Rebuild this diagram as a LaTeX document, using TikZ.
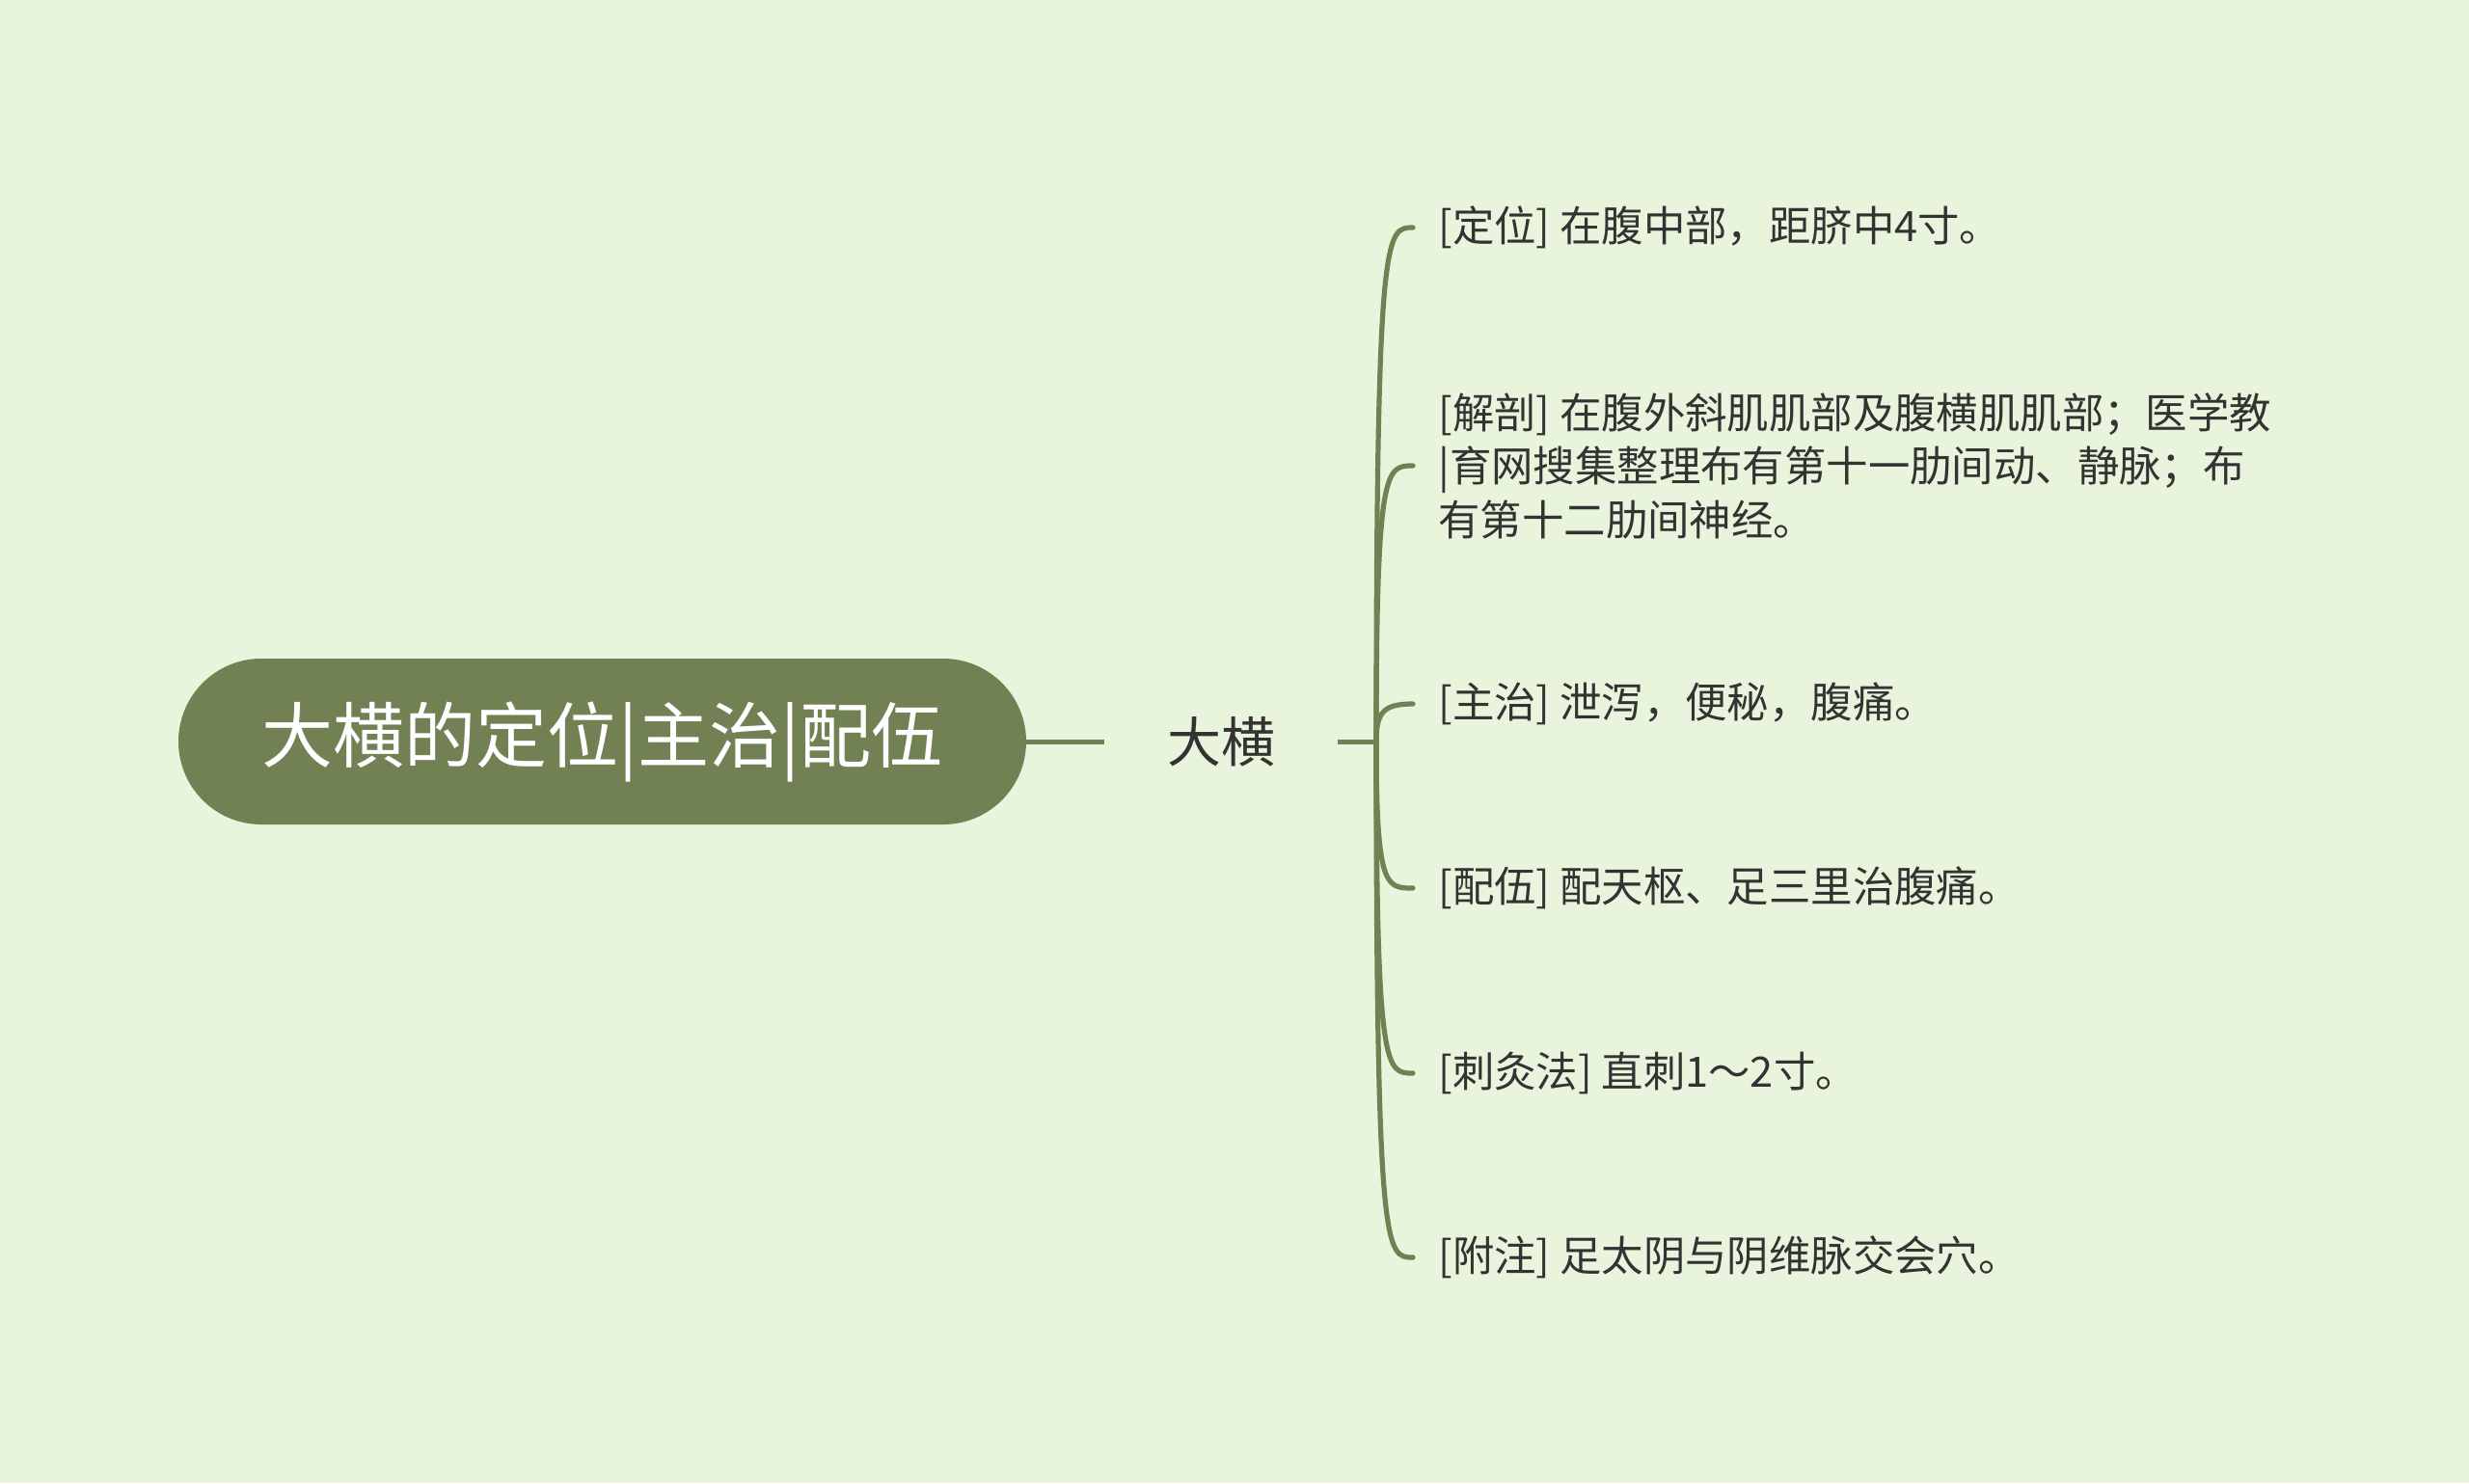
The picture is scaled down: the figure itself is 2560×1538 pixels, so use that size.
\documentclass[tikz,border=0pt]{standalone}
\usepackage{fontspec}
\newfontfamily\cjk{Noto Sans CJK SC}
\definecolor{bg}{RGB}{232,244,219}
\definecolor{olive}{RGB}{114,129,84}
\definecolor{txt}{RGB}{51,51,51}
\begin{document}
\begin{tikzpicture}[x=0.5pt,y=-0.5pt,
  rootbox/.style={fill=olive, rounded corners=43pt, minimum width=439.5pt, minimum height=86pt, inner sep=0pt, text=white, font=\cjk\fontsize{37}{44}\selectfont},
  subbox/.style={minimum width=121pt, inner sep=0pt, text=txt, font=\cjk\fontsize{28}{34}\selectfont},
  leaf/.style={anchor=west, inner xsep=13pt, inner ysep=2pt, align=left, text=txt, font=\cjk\fontsize{21.7}{27.75}\selectfont},
  link/.style={draw=olive, line width=2.5pt},
  branch/.style={draw=olive, line width=2.6pt, line cap=round}]
\fill[bg] (0,0) rectangle (2560,1538);
\useasboundingbox (0,0) rectangle (2560,1538);
\node[rootbox] (root) at (624.5,769) {大横的定位|主治|配伍};
\node[subbox] (sub) at (1266,769) {大横};
\coordinate (trunk) at (1427,769);
\node[leaf] (a) at (1465,236) {[定位] 在腹中部，距脐中4寸。};
\node[leaf] (b) at (1465,483) {[解剖] 在腹外斜肌肌部及腹横肌肌部；医学教\\|育网搜集整理布有第十一肋间动、静脉；布\\有第十二肋间神经。};
\node[leaf] (c) at (1465,730) {[主治] 泄泻，便秘，腹痛。};
\node[leaf] (d) at (1465,921) {[配伍] 配天枢、足三里治腹痛。};
\node[leaf] (e) at (1465,1113) {[刺灸法] 直刺1～2寸。};
\node[leaf] (f) at (1465,1304) {[附注] 足太阴与阴维脉交会穴。};
\draw[link] (root.east) -- (sub.west);
\draw[link] (sub.east) -- (trunk);
\foreach \n/\yy in {a/236,b/483,d/921,e/1113,f/1304}{
  \draw[branch] (trunk) .. controls (1427,\yy) and (1437,\yy) .. (\n.west);
}
\draw[branch] (trunk) .. controls (1427,738) and (1435,730) .. (c.west);
\end{tikzpicture}
\end{document}
